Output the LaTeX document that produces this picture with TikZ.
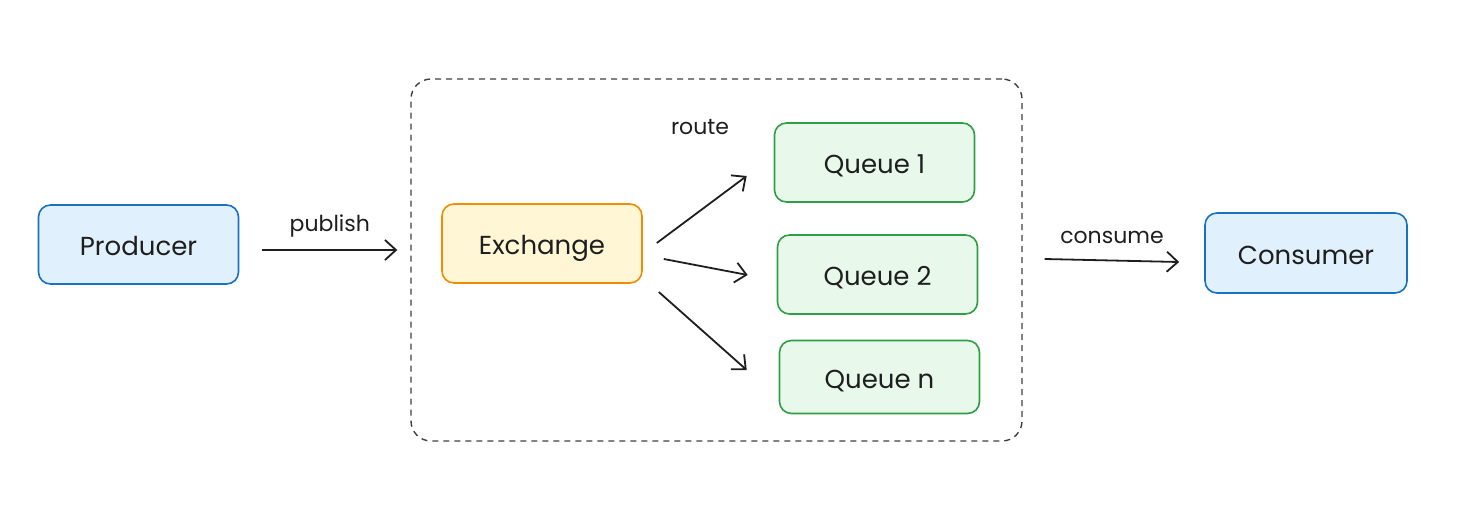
\documentclass[tikz,border=0pt]{standalone}
\usepackage{fontspec}
\setmainfont{Poppins}
\usetikzlibrary{arrows.meta}
\definecolor{ink}{HTML}{1E1E1E}
\definecolor{bluestroke}{HTML}{1971C2}
\definecolor{bluefill}{HTML}{E0F0FC}
\definecolor{orangestroke}{HTML}{F08C00}
\definecolor{orangefill}{HTML}{FFF6D6}
\definecolor{greenstroke}{HTML}{2F9E44}
\definecolor{greenfill}{HTML}{E8F8EB}
\tikzset{
  box/.style={draw, rounded corners=12pt, line width=1.6pt, minimum width=200pt, minimum height=79pt, inner sep=0pt, text=ink, font=\fontsize{26}{30}\selectfont, text height=22pt, text depth=0pt},
  bluebox/.style={box, draw=bluestroke, fill=bluefill},
  orangebox/.style={box, draw=orangestroke, fill=orangefill},
  greenbox/.style={box, draw=greenstroke, fill=greenfill},
  arr/.style={draw=ink, line width=1.8pt, -{Straight Barb[length=11pt,width=20pt,line width=1.8pt]}},
  lbl/.style={text=ink, font=\fontsize{22}{26}\selectfont, inner sep=0pt},
  container/.style={draw=ink!85, dash pattern=on 6pt off 5pt, line width=1.4pt, rounded corners=20pt, inner sep=0pt}
}
\begin{document}
\begin{tikzpicture}[x=1pt,y=-1pt]
\useasboundingbox (0,0) rectangle (1458,508);
\node[container, minimum width=611pt, minimum height=362pt] (broker) at (716.5,260) {};
\node[bluebox] (prod) at (138.5,244.5) {Producer};
\node[orangebox] (exch) at (542,243.5) {Exchange};
\node[greenbox] (q1) at (874.5,162.5) {Queue 1};
\node[greenbox] (q2) at (877.5,274.5) {Queue 2};
\node[greenbox, minimum height=73pt] (qn) at (879.5,377) {Queue n};
\node[bluebox, minimum width=202pt, minimum height=80pt] (cons) at (1306,253) {Consumer};
\draw[arr] ([yshift=-5.5pt,xshift=23pt]prod.east) -- node[lbl, above=12pt] (publbl) {publish} ([yshift=10pt,xshift=-13pt]broker.west);
\draw[arr] ([xshift=14pt,yshift=0.5pt]exch.east) -- ([xshift=-27pt,yshift=-13.5pt]q1.west);
\draw[arr] ([xshift=21pt,yshift=-15.5pt]exch.east) -- ([xshift=-29pt,yshift=-0.5pt]q2.west);
\draw[arr] ([xshift=16pt,yshift=-48.5pt]exch.east) -- ([xshift=-32pt,yshift=7pt]qn.west);
\draw[arr] ([xshift=22pt,yshift=1pt]broker.east) -- node[lbl, above=16pt] (conslbl) {consume} ([xshift=-25pt,yshift=-9pt]cons.west);
\node[lbl] (routelbl) at (700,127) {route};
\end{tikzpicture}
\end{document}
